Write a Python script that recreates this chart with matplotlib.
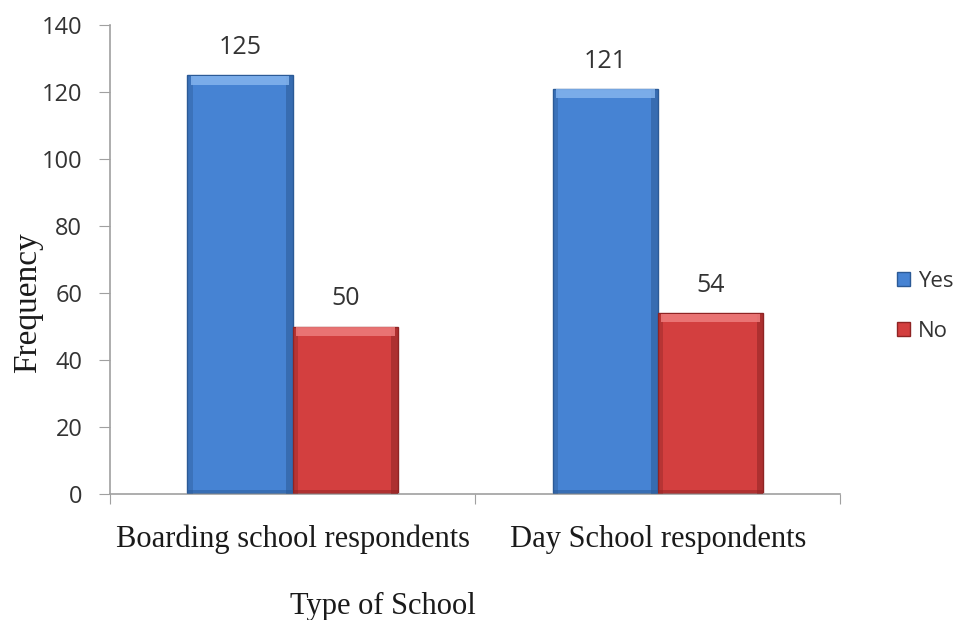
import numpy as np
import matplotlib
matplotlib.use('Agg')
from matplotlib import pyplot as plt
from matplotlib.patches import Rectangle

categories = ['Boarding school respondents', 'Day School respondents']
yes_vals = [125, 121]
no_vals = [50, 54]
series_names = ['Yes', 'No']
yticks = [0, 20, 40, 60, 80, 100, 120, 140]

fig = plt.figure(figsize=(9.57, 6.2), dpi=100)
ax = fig.add_axes([0.115, 0.2032, 0.763, 0.7565])

x = np.arange(len(categories))
w = 0.288

# bar colours: face, dark edge, light top highlight
styles = [('#4683d3', '#2b5a96', '#84b4ee'), ('#d33f3f', '#8f2424', '#ee7d7d')]

for k, vals in enumerate([yes_vals, no_vals]):
    face, edge, light = styles[k]
    pos = x + (k - 0.5) * w
    bars = ax.bar(pos, vals, width=w, color=face, edgecolor=edge, linewidth=1.0,
                  label=series_names[k], zorder=2)
    for b, v in zip(bars, vals):
        x0 = b.get_x()
        # bevel: darker sides, lighter top strip
        ax.add_patch(Rectangle((x0, 0), w * 0.05, v, color=edge, alpha=0.4, lw=0, zorder=3))
        ax.add_patch(Rectangle((x0 + w * 0.94, 0), w * 0.06, v, color=edge, alpha=0.55, lw=0, zorder=3))
        ax.add_patch(Rectangle((x0 + w * 0.03, v - 2.8), w * 0.94, 2.6, color=light, alpha=0.85, lw=0, zorder=3))
        ax.add_patch(Rectangle((x0, 0), w, 1.2, color=edge, alpha=0.5, lw=0, zorder=3))
        ax.text(b.get_x() + w / 2, v + 4.5, str(v), ha='center', va='bottom',
                fontsize=18, family='Open Sans', color='#333333')

ax.set_xlim(-0.5, 1.5)
ax.set_ylim(0, 140)
ax.set_yticks(yticks)
ax.set_yticklabels([str(t) for t in yticks], fontsize=17, family='Open Sans', color='#333333')

# category axis: ticks between categories, labels centred
ax.set_xticks([-0.5, 0.5, 1.5])
ax.set_xticklabels([])
ax.set_xticks(x, minor=True)
ax.set_xticklabels(categories, minor=True, fontsize=22, family='Liberation Serif', color='#1a1a1a')
ax.tick_params(axis='x', which='major', length=7, color='#a0a0a0', direction='out')
ax.tick_params(axis='x', which='minor', length=0, pad=22)
ax.tick_params(axis='y', length=8, color='#a0a0a0', pad=12)

for s in ['top', 'right']:
    ax.spines[s].set_visible(False)
for s in ['left', 'bottom']:
    ax.spines[s].set_color('#a0a0a0')
    ax.spines[s].set_linewidth(1.2)

# axis titles placed on the figure
fig.text(28 / 957, 1 - 303 / 620, 'Frequency', rotation=90, ha='center', va='center',
         fontsize=24, family='Liberation Serif', color='#1a1a1a')
fig.text(383 / 957, 6 / 620, 'Type of School', ha='center', va='baseline',
         fontsize=22, family='Liberation Serif', color='#1a1a1a')

leg = ax.legend(loc='center left', bbox_to_anchor=(1.05, 0.4), frameon=False,
                prop={'family': 'Open Sans', 'size': 16}, handlelength=0.6, handleheight=0.6,
                handletextpad=0.35, labelspacing=1.3)
for t in leg.get_texts():
    t.set_color('#333333')

fig.savefig('out.png', dpi=100)
